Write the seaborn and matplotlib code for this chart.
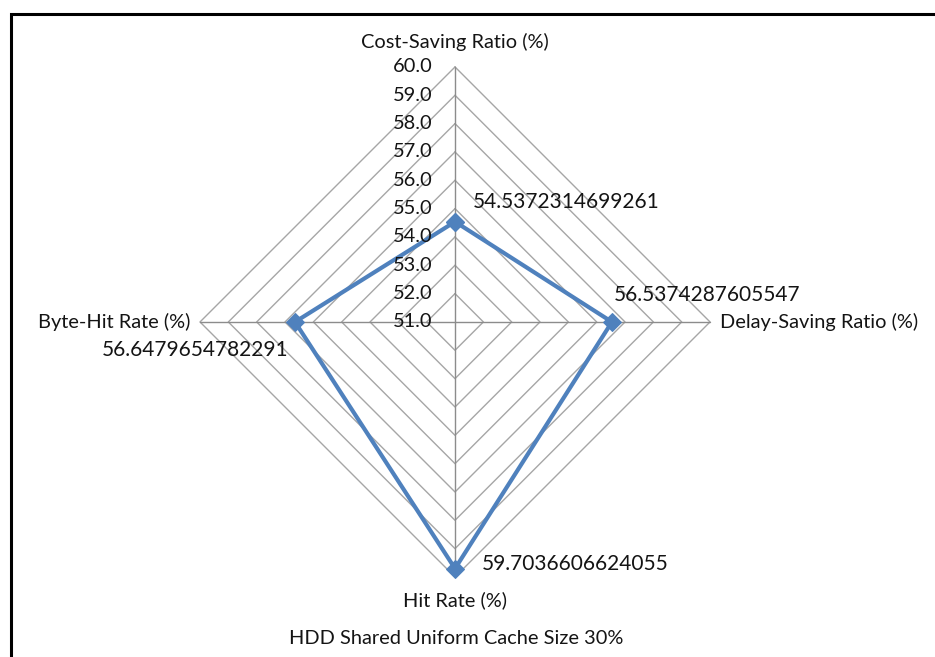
import numpy as np
import pandas as pd
import matplotlib
matplotlib.use("Agg")
import matplotlib.pyplot as plt
from matplotlib.patches import Rectangle
import seaborn as sns

# Radar chart data
categories = ["Cost-Saving Ratio (%)", "Delay-Saving Ratio (%)", "Hit Rate (%)", "Byte-Hit Rate (%)"]
values = [54.5372314699261, 56.5374287605547, 59.7036606624055, 56.6479654782291]
levels = [51.0, 52.0, 53.0, 54.0, 55.0, 56.0, 57.0, 58.0, 59.0, 60.0]
chart_title = "HDD Shared Uniform Cache Size 30%"

sns.set_style("white")
plt.rcParams["font.family"] = ["Lato", "DejaVu Sans"]

FS = 14.4
FS_VAL = 15.0
TXT = "#141414"
GRID = "#a6a6a6"
SERIES = "#4f81bd"

fig = plt.figure(figsize=(9.35, 6.57), dpi=100)
ax = fig.add_axes([0.2139, 0.1218, 0.5455, 0.7763], projection="polar")
ax.set_theta_offset(np.pi / 2)
ax.set_theta_direction(-1)
ax.set_ylim(levels[0], levels[-1])
ax.grid(False)
ax.spines["polar"].set_visible(False)
ax.set_xticks([])
ax.set_yticks([])
ax.patch.set_alpha(0)

n = len(categories)
theta = np.linspace(0, 2 * np.pi, n, endpoint=False)
theta_closed = np.append(theta, 2 * np.pi)

# polygonal grid and spokes
for lv in levels[1:]:
    ax.plot(theta_closed, [lv] * (n + 1), color=GRID, lw=1.0, clip_on=False, zorder=1)
for t in theta:
    ax.plot([t, t], [levels[0], levels[-1]], color="#8c8c8c", lw=1.0, clip_on=False, zorder=1)

# series
df = pd.DataFrame({"theta": theta_closed, "value": values + values[:1]})
sns.lineplot(data=df, x="theta", y="value", sort=False, color=SERIES, lw=3.0,
             marker="D", markersize=9.5, markeredgecolor=SERIES, ax=ax, clip_on=False, zorder=3)
ax.set_xlabel("")
ax.set_ylabel("")
ax.set_ylim(levels[0], levels[-1])

# radial tick labels along the top spoke
for lv in levels:
    ax.annotate(f"{lv:.1f}", xy=(0, lv), xytext=(-16, 0), textcoords="offset points",
                ha="right", va="center", fontsize=FS, color=TXT, annotation_clip=False)

# category labels
cat_off = [((0, 18), "center"), ((7, 0), "left"), ((0, -17), "center"), ((-7, 0), "right")]
for t, cat, (off, ha) in zip(theta, categories, cat_off):
    ax.annotate(cat, xy=(t, levels[-1]), xytext=off, textcoords="offset points",
                ha=ha, va="center", fontsize=FS, color=TXT, annotation_clip=False)

# value labels
val_off = [((13, 14.5), "left"), ((1, 19.5), "left"), ((19, 3), "left"), ((-5, -20), "right")]
for t, v, (off, ha) in zip(theta, values, val_off):
    ax.annotate(str(v), xy=(t, v), xytext=off, textcoords="offset points",
                ha=ha, va="center", fontsize=FS_VAL, color=TXT, annotation_clip=False)

fig.text(456 / 935, 1 - 638 / 657, chart_title, ha="center", va="center", fontsize=FS, color=TXT)

# outer frame
fig.add_artist(Rectangle((11 / 935, -0.05), 1.2, 1 - 14 / 657 + 0.05, transform=fig.transFigure,
                         fill=False, edgecolor="black", lw=2.2))

fig.savefig("out.png", dpi=100, facecolor="white")
